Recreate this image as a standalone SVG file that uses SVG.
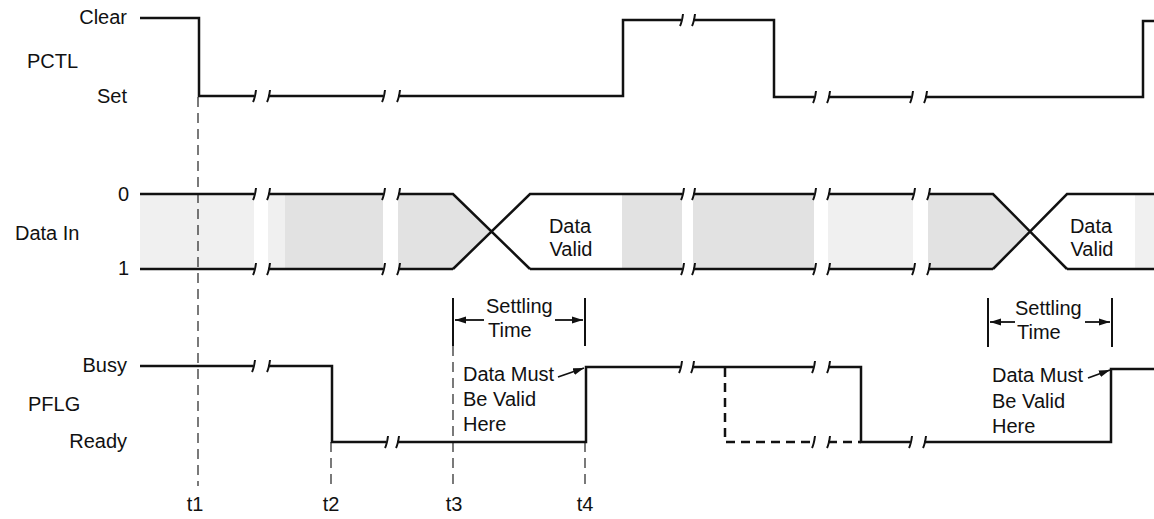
<svg xmlns="http://www.w3.org/2000/svg" xmlns:xlink="http://www.w3.org/1999/xlink" width="1154" height="519" viewBox="0 0 1154 519">
<style>
text{font-family:"Liberation Sans",Arial,sans-serif;font-size:20px;fill:#111}
.sig{fill:none;stroke:#111;stroke-width:2.5;stroke-linejoin:miter}
.tk{fill:none;stroke:#111;stroke-width:2}
.dl{fill:none;stroke:#222;stroke-width:1.2;stroke-dasharray:10,6}
.dsig{fill:none;stroke:#111;stroke-width:2.5;stroke-dasharray:9,6}
.bar{fill:none;stroke:#111;stroke-width:2}
.arw{fill:none;stroke:#111;stroke-width:1.8}
.sh1{fill:#f0f0f0}
.sh2{fill:#e2e2e2}
.e{text-anchor:end}
</style>
<defs>
<path id="tk" class="tk" d="M2,-6 Q1,2 -1,6"/>
<marker id="ah" markerUnits="userSpaceOnUse" markerWidth="12" markerHeight="8" refX="11" refY="4" orient="auto">
<path d="M0,0.5 L11,4 L0,7.5 z" fill="#111"/>
</marker>
</defs>

<g id="labels">
<text class="e" x="127" y="24">Clear</text>
<text x="27" y="68">PCTL</text>
<text class="e" x="127" y="103">Set</text>
<text class="e" x="129" y="201">0</text>
<text x="15" y="240">Data In</text>
<text class="e" x="129" y="275">1</text>
<text class="e" x="127" y="372">Busy</text>
<text x="28" y="411">PFLG</text>
<text class="e" x="127" y="448">Ready</text>
<text x="195" y="511" text-anchor="middle">t1</text>
<text x="331" y="511" text-anchor="middle">t2</text>
<text x="454" y="511" text-anchor="middle">t3</text>
<text x="585" y="511" text-anchor="middle">t4</text>
</g>

<g id="data-shading">
<rect class="sh1" x="140" y="195" width="114" height="73"/>
<rect class="sh1" x="268" y="195" width="17" height="73"/>
<rect class="sh2" x="285" y="195" width="98" height="73"/>
<polygon class="sh2" points="398,195 453,195 491,231.5 453,268 398,268"/>
<rect class="sh2" x="622" y="195" width="60" height="73"/>
<rect class="sh2" x="693" y="195" width="121" height="73"/>
<rect class="sh1" x="828" y="195" width="85" height="73"/>
<polygon class="sh2" points="928,195 993,195 1030,231.5 993,268 928,268"/>
<rect class="sh1" x="1135" y="195" width="19" height="73"/>
</g>

<g id="timelines">
<line class="dl" x1="198" y1="97" x2="198" y2="486"/>
<line class="dl" x1="331" y1="442" x2="331" y2="486"/>
<line class="dl" x1="453" y1="346" x2="453" y2="486"/>
<line class="dl" x1="585" y1="442" x2="585" y2="486"/>
</g>

<g id="pctl">
<path class="sig" d="M140,18 H199 V96 H254 M268,96 H383 M398,96 H623 V20 H681 M693,20 H774 V97 H814 M828,97 H911 M925,97 H1143 V21 H1154"/>
<use href="#tk" x="254" y="96"/><use href="#tk" x="268" y="96"/>
<use href="#tk" x="383" y="96"/><use href="#tk" x="398" y="96"/>
<use href="#tk" x="681" y="20"/><use href="#tk" x="693" y="20"/>
<use href="#tk" x="814" y="97"/><use href="#tk" x="828" y="97"/>
<use href="#tk" x="911" y="97"/><use href="#tk" x="925" y="97"/>
</g>

<g id="data-in">
<path class="sig" d="M140,194 H254 M268,194 H383 M398,194 H453 L530,269 M453,269 L530,194 H682 M693,194 H814 M828,194 H913 M928,194 H993 L1067,269 M993,269 L1067,194 H1154"/>
<path class="sig" d="M140,269 H254 M268,269 H383 M398,269 H453 M530,269 H682 M693,269 H814 M828,269 H913 M928,269 H993 M1067,269 H1154"/>
<use href="#tk" x="254" y="194"/><use href="#tk" x="268" y="194"/>
<use href="#tk" x="383" y="194"/><use href="#tk" x="398" y="194"/>
<use href="#tk" x="682" y="194"/><use href="#tk" x="693" y="194"/>
<use href="#tk" x="814" y="194"/><use href="#tk" x="828" y="194"/>
<use href="#tk" x="913" y="194"/><use href="#tk" x="928" y="194"/>
<use href="#tk" x="254" y="269"/><use href="#tk" x="268" y="269"/>
<use href="#tk" x="383" y="269"/><use href="#tk" x="398" y="269"/>
<use href="#tk" x="682" y="269"/><use href="#tk" x="693" y="269"/>
<use href="#tk" x="814" y="269"/><use href="#tk" x="828" y="269"/>
<use href="#tk" x="913" y="269"/><use href="#tk" x="928" y="269"/>
<text x="570" y="233" text-anchor="middle">Data</text>
<text x="571" y="256" text-anchor="middle">Valid</text>
<text x="1091" y="233" text-anchor="middle">Data</text>
<text x="1092" y="256" text-anchor="middle">Valid</text>
</g>

<g id="pflg">
<path class="sig" d="M140,366 H253 M268,366 H332 V442 H386 M397,442 H586 V367 H680 M692,367 H813 M828,367 H861 V442 H910 M924,442 H1111 V369 H1154"/>
<path class="dsig" d="M725,368 V442 H813 M828,442 H861"/>
<use href="#tk" x="253" y="366"/><use href="#tk" x="268" y="366"/>
<use href="#tk" x="386" y="442"/><use href="#tk" x="397" y="442"/>
<use href="#tk" x="680" y="367"/><use href="#tk" x="692" y="367"/>
<use href="#tk" x="813" y="367"/><use href="#tk" x="828" y="367"/>
<use href="#tk" x="813" y="442"/><use href="#tk" x="828" y="442"/>
<use href="#tk" x="910" y="442"/><use href="#tk" x="924" y="442"/>
</g>

<g id="settling-1">
<line class="bar" x1="453" y1="298" x2="453" y2="346"/>
<line class="bar" x1="585" y1="298" x2="585" y2="346"/>
<line class="arw" x1="484" y1="320" x2="455" y2="320" marker-end="url(#ah)"/>
<line class="arw" x1="555" y1="320" x2="583" y2="320" marker-end="url(#ah)"/>
<text x="486" y="313">Settling</text>
<text x="488" y="337">Time</text>
</g>

<g id="settling-2">
<line class="bar" x1="988" y1="298" x2="988" y2="347"/>
<line class="bar" x1="1112" y1="298" x2="1112" y2="347"/>
<line class="arw" x1="1015" y1="322" x2="990" y2="322" marker-end="url(#ah)"/>
<line class="arw" x1="1085" y1="322" x2="1110" y2="322" marker-end="url(#ah)"/>
<text x="1015" y="315">Settling</text>
<text x="1017" y="339">Time</text>
</g>

<g id="note-1">
<text x="463" y="381">Data Must</text>
<text x="463" y="406">Be Valid</text>
<text x="463" y="431">Here</text>
<line class="arw" x1="558" y1="377" x2="584" y2="368" marker-end="url(#ah)"/>
</g>

<g id="note-2">
<text x="992" y="382">Data Must</text>
<text x="992" y="408">Be Valid</text>
<text x="992" y="433">Here</text>
<line class="arw" x1="1088" y1="378" x2="1110" y2="370" marker-end="url(#ah)"/>
</g>
</svg>
